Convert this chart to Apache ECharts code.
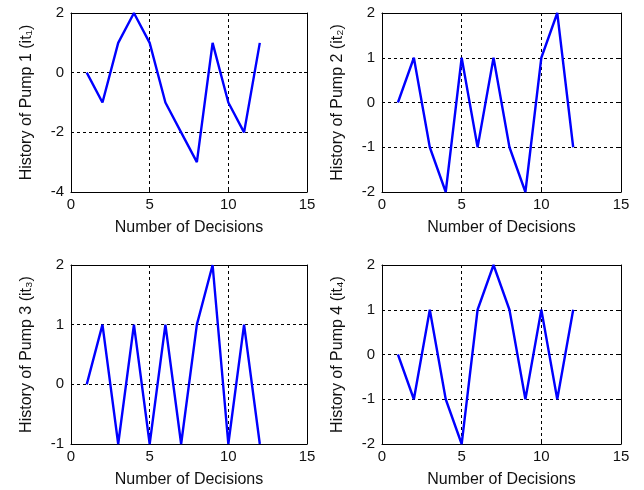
<!DOCTYPE html>
<html><head><meta charset="utf-8">
<script src="https://cdn.jsdelivr.net/npm/echarts@6/dist/echarts.min.js"></script>
<style>html,body{margin:0;padding:0;background:#fff}#c{width:644px;height:490px}</style>
</head><body><div id="c"></div>
<script>
const decisions = [1,2,3,4,5,6,7,8,9,10,11,12];
const pump1 = [0,-1,1,2,1,-1,-2,-3,1,-1,-2,1];
const pump2 = [0,1,-1,-2,1,-1,1,-1,-2,1,2,-1];
const pump3 = [0,1,-1,1,-1,1,-1,1,2,-1,1,-1];
const pump4 = [0,-1,1,-1,-2,1,2,1,-1,1,-1,1];
const yNames = ['History of Pump 1 (it\u2081)','History of Pump 2 (it\u2082)','History of Pump 3 (it\u2083)','History of Pump 4 (it\u2084)'];
const xName = 'Number of Decisions';
const yRanges = [[-4,2,2],[-2,2,1],[-1,2,1],[-2,2,1]];
const xTicks = [0,5,10,15];

const font = 'Liberation Sans, Arial, sans-serif';
const grids = [
  {left:71, top:13, width:236, height:179},
  {left:382, top:13, width:239, height:179},
  {left:71, top:265, width:236, height:179},
  {left:382, top:265, width:239, height:179}
];
const dataSets = [pump1,pump2,pump3,pump4];
const gridLine = {show:true, lineStyle:{color:'#000', type:[3,3], width:1}};
const axLine = {show:true, onZero:false, lineStyle:{color:'#000', width:1}};
const tick = {show:true, inside:true, length:3, lineStyle:{color:'#000'}};
const xAxes = [], yAxes = [], series = [];
grids.forEach((g,i)=>{
  xAxes.push({type:'value', gridIndex:i, position:'bottom', min:xTicks[0], max:xTicks[xTicks.length-1], interval:5,
    name:xName, nameLocation:'middle', nameGap:28, nameTextStyle:{color:'#111', fontSize:16, fontFamily:font},
    axisLine:axLine, axisTick:tick,
    axisLabel:{color:'#111', fontSize:15, fontFamily:font, margin:5},
    splitLine:gridLine});
  const r = yRanges[i];
  yAxes.push({type:'value', gridIndex:i, position:'left', min:r[0], max:r[1], interval:r[2],
    name:yNames[i], nameLocation:'middle', nameRotate:90, nameGap:36, nameTextStyle:{color:'#111', fontSize:16, fontFamily:font},
    axisLine:axLine, axisTick:tick,
    axisLabel:{color:'#111', fontSize:15, fontFamily:font, margin:7},
    splitLine:gridLine});
  xAxes.push({type:'value', gridIndex:i, position:'top', min:0, max:15, interval:5, axisLine:axLine,
    axisTick:tick, axisLabel:{show:false}, splitLine:{show:false}});
  yAxes.push({type:'value', gridIndex:i, position:'right', min:r[0], max:r[1], interval:r[2], axisLine:axLine,
    axisTick:tick, axisLabel:{show:false}, splitLine:{show:false}});
  series.push({type:'line', xAxisIndex:2*i, yAxisIndex:2*i, data:decisions.map((d,k)=>[d,dataSets[i][k]]),
    showSymbol:false, symbol:'none', lineStyle:{color:'#0000ff', width:2.4}, itemStyle:{color:'#0000ff'}, animation:false, z:5});
});
const chart = echarts.init(document.getElementById('c'), null, {renderer:'canvas'});
chart.setOption({animation:false, grid:grids, xAxis:xAxes, yAxis:yAxes, series:series});
</script></body></html>
